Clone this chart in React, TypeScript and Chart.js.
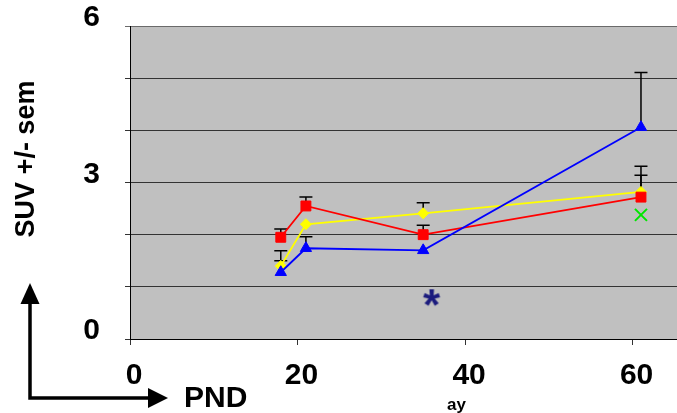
import React, { useEffect, useRef } from 'react';
import { Chart, registerables } from 'chart.js';

Chart.register(...registerables);

// ---- data ----
const days = [18, 21, 35, 61];
const blueSuv = [1.28, 1.74, 1.7, 4.06];
const blueSem = [0.22, 0.22, 0, 1.05];
const redSuv = [1.95, 2.55, 2.0, 2.72];
const redSem = [0.16, 0.17, 0.18, 0.42];
const yellowSuv = [1.4, 2.2, 2.41, 2.82];
const yellowSem = [0.29, 0, 0.2, 0.49];
const greenDays = [61];
const greenSuv = [2.38];
const starDays = [36];
const starSuv = [0.8];
const xTickValues = [0, 20, 40, 60];
const yLabelValues = [0, 3, 6];
const yAxisTitle = 'SUV +/- sem';
const xAxisTitle = 'PND';
const fragmentText = 'ay';

const FONT = '"Liberation Sans", Arial, sans-serif';

function toPoints(xs: number[], ys: number[]) {
  return xs.map((x, i) => ({ x, y: ys[i] }));
}

function makeStar(): HTMLCanvasElement {
  const c = document.createElement('canvas');
  c.width = 28;
  c.height = 28;
  const g = c.getContext('2d')!;
  g.fillStyle = '#1b1b7d';
  g.font = `bold 44px ${FONT}`;
  g.textAlign = 'center';
  g.textBaseline = 'alphabetic';
  const m = g.measureText('*');
  const off = (m.actualBoundingBoxAscent - m.actualBoundingBoxDescent) / 2;
  g.fillText('*', 14, 14 + off);
  return c;
}

const bgPlugin = {
  id: 'plotBg',
  beforeDraw(chart: any) {
    const { ctx, chartArea } = chart;
    ctx.save();
    ctx.fillStyle = '#c0c0c0';
    ctx.fillRect(chartArea.left, chartArea.top, chartArea.right - chartArea.left, chartArea.bottom - chartArea.top);
    ctx.restore();
  },
};

const errorBarPlugin = {
  id: 'errorBars',
  beforeDatasetsDraw(chart: any) {
    const ctx = chart.ctx;
    const yScale = chart.scales.y;
    chart.data.datasets.forEach((ds: any, i: number) => {
      const sem: number[] | undefined = ds.sem;
      if (!sem) return;
      const meta = chart.getDatasetMeta(i);
      meta.data.forEach((el: any, j: number) => {
        const s = sem[j];
        if (!s) return;
        const v = ds.data[j].y;
        const top = yScale.getPixelForValue(v + s);
        ctx.save();
        ctx.strokeStyle = '#000';
        ctx.lineWidth = 1.5;
        ctx.beginPath();
        ctx.moveTo(el.x, el.y);
        ctx.lineTo(el.x, top);
        ctx.moveTo(el.x - 6.5, top);
        ctx.lineTo(el.x + 6.5, top);
        ctx.stroke();
        ctx.restore();
      });
    });
  },
};

const annotationPlugin = {
  id: 'annotations',
  afterDraw(chart: any) {
    const ctx = chart.ctx;
    ctx.save();
    ctx.fillStyle = '#000';
    ctx.strokeStyle = '#000';
    // y-axis title
    ctx.save();
    ctx.translate(34, 159);
    ctx.rotate(-Math.PI / 2);
    ctx.font = `bold 27px ${FONT}`;
    ctx.textAlign = 'center';
    ctx.textBaseline = 'alphabetic';
    ctx.fillText(yAxisTitle, 0, 0);
    ctx.restore();
    // L-shaped arrows
    ctx.lineWidth = 3.5;
    ctx.beginPath();
    ctx.moveTo(30, 303);
    ctx.lineTo(30, 398);
    ctx.lineTo(150, 398);
    ctx.stroke();
    ctx.beginPath();
    ctx.moveTo(30, 283);
    ctx.lineTo(39.5, 304);
    ctx.lineTo(20.5, 304);
    ctx.closePath();
    ctx.fill();
    ctx.beginPath();
    ctx.moveTo(168, 398);
    ctx.lineTo(148, 388);
    ctx.lineTo(148, 408);
    ctx.closePath();
    ctx.fill();
    // x label
    ctx.font = `bold 30px ${FONT}`;
    ctx.textAlign = 'left';
    ctx.textBaseline = 'alphabetic';
    ctx.fillText(xAxisTitle, 184, 407);
    ctx.font = `bold 17px ${FONT}`;
    ctx.fillText(fragmentText, 447, 410);
    ctx.restore();
  },
};

export default function App() {
  const ref = useRef<HTMLCanvasElement | null>(null);

  useEffect(() => {
    if (!ref.current) return;
    const star = makeStar();
    const chart = new Chart(ref.current, {
      type: 'scatter',
      data: {
        datasets: [
          {
            label: 'blue',
            data: toPoints(days, blueSuv),
            sem: blueSem,
            showLine: true,
            borderColor: '#0000ff',
            backgroundColor: '#0000ff',
            borderWidth: 1.8,
            pointStyle: 'triangle',
            pointRadius: 6.5,
            pointBorderWidth: 1,
          } as any,
          {
            label: 'red',
            data: toPoints(days, redSuv),
            sem: redSem,
            showLine: true,
            borderColor: '#ff0000',
            backgroundColor: '#ff0000',
            borderWidth: 1.8,
            pointStyle: 'rect',
            pointRadius: 7,
            pointBorderWidth: 1,
          } as any,
          {
            label: 'yellow',
            data: toPoints(days, yellowSuv),
            sem: yellowSem,
            showLine: true,
            borderColor: '#ffff00',
            backgroundColor: '#ffff00',
            borderWidth: 1.8,
            pointStyle: 'rectRot',
            pointRadius: 5.5,
            pointBorderWidth: 1,
          } as any,
          {
            label: 'green',
            data: toPoints(greenDays, greenSuv),
            showLine: false,
            borderColor: '#00e600',
            backgroundColor: '#00e600',
            pointStyle: 'crossRot',
            pointRadius: 8.5,
            pointBorderWidth: 2,
          } as any,
          {
            label: 'star',
            data: toPoints(starDays, starSuv),
            showLine: false,
            pointStyle: star,
            pointRadius: 10,
          } as any,
        ],
      },
      options: {
        animation: false,
        responsive: false,
        maintainAspectRatio: false,
        layout: { autoPadding: false, padding: { top: 26, left: 0, right: 0, bottom: 0 } },
        plugins: {
          legend: { display: false },
          tooltip: { enabled: false },
          title: { display: false },
        },
        scales: {
          x: {
            type: 'linear',
            min: 0,
            max: 65.3,
            afterBuildTicks: (s: any) => {
              s.ticks = xTickValues.map((v) => ({ value: v }));
            },
            afterFit: (s: any) => {
              s.height = 74;
              s.paddingLeft = 0;
              s.paddingRight = 0;
            },
            grid: { drawOnChartArea: false, drawTicks: true, tickLength: 6, color: '#333', lineWidth: 1 },
            border: { color: '#000', width: 1 },
            ticks: {
              font: { family: FONT, size: 30, weight: 'bold' },
              color: '#000',
              padding: 13,
              labelOffset: 4,
              maxRotation: 0,
              autoSkip: false,
            },
          },
          y: {
            type: 'linear',
            min: 0,
            max: 6,
            afterFit: (s: any) => {
              s.width = 130;
              s.paddingTop = 0;
              s.paddingBottom = 0;
            },
            grid: {
              color: (c: any) => (c.tick && c.tick.value === 6 ? '#6a6a6a' : '#333'),
              tickLength: 5,
              lineWidth: 1,
            },
            border: { color: '#000', width: 1 },
            ticks: {
              stepSize: 1,
              autoSkip: false,
              callback: (v: any) => (yLabelValues.includes(Number(v)) ? String(v) : ''),
              font: { family: FONT, size: 30, weight: 'bold' },
              color: '#000',
              padding: 25,
              labelOffset: -8,
            },
          },
        },
      } as any,
      plugins: [bgPlugin, errorBarPlugin, annotationPlugin],
    });
    return () => chart.destroy();
  }, []);

  return (
    <div style={{ position: 'absolute', left: 0, top: 0, width: 677, height: 413, background: '#fff' }}>
      <canvas ref={ref} width={677} height={413} style={{ width: 677, height: 413, display: 'block' }} />
    </div>
  );
}
